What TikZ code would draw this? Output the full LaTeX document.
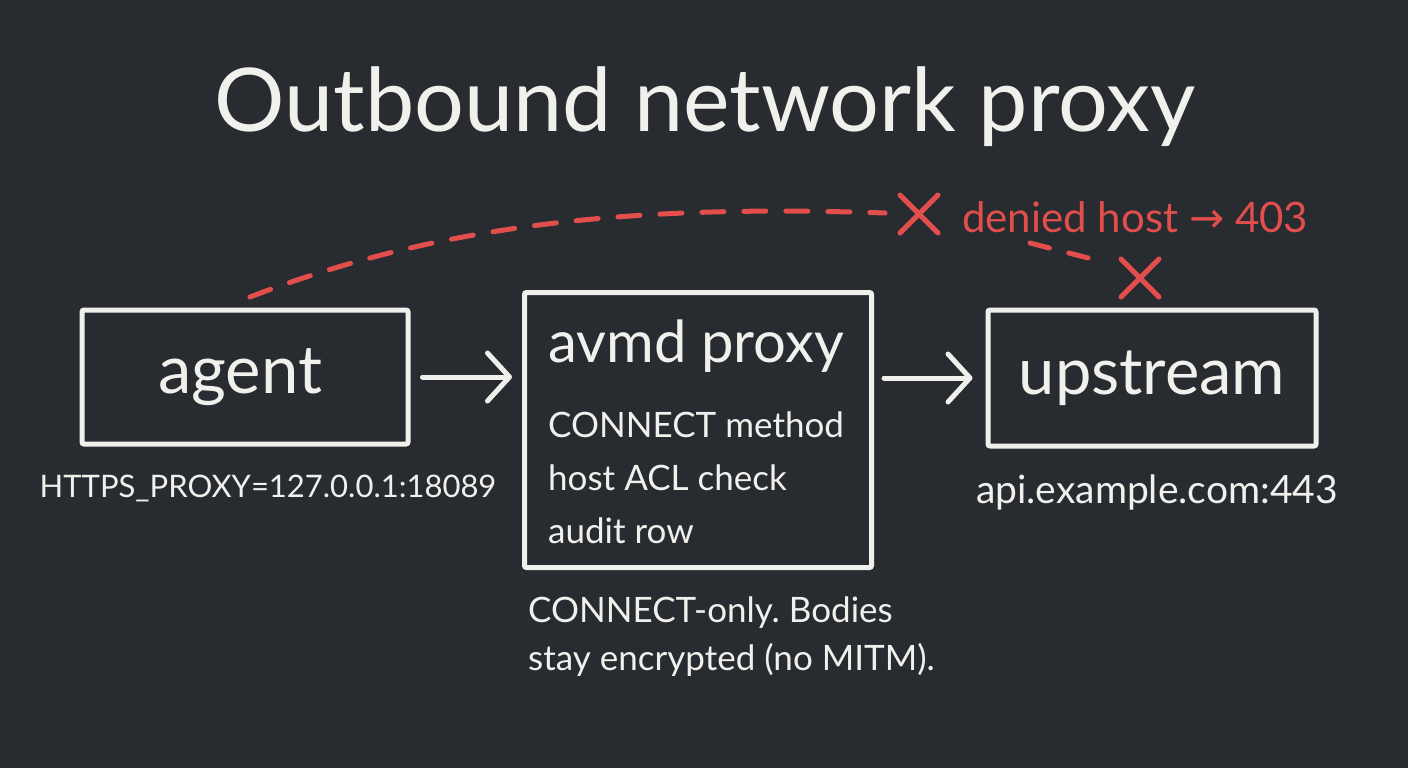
\documentclass[tikz,border=0pt]{standalone}
\usepackage{fontspec}
\setmainfont{Lato}
\newfontfamily\symfont{DejaVu Sans}
\usetikzlibrary{arrows.meta,calc}
\definecolor{board}{RGB}{40,43,48}
\definecolor{chalk}{RGB}{240,240,236}
\definecolor{chalkred}{RGB}{226,78,76}
\frenchspacing
\begin{document}
\begin{tikzpicture}[x=1pt, y=-1pt,
    box/.style={draw=chalk, line width=5pt, rounded corners=2pt, inner sep=0pt},
    lbl/.style={text=chalk, inner sep=0pt},
    arr/.style={draw=chalk, line width=5pt, line cap=round,
      -{Straight Barb[length=22pt, width=48pt, line width=5pt, round]}},
    deny/.style={draw=chalkred, line width=5pt, line cap=round},
    cross/.style={deny, line width=5pt}]
    % Board
    \fill[board] (0,0) rectangle (1408,768);
    \useasboundingbox (0,0) rectangle (1408,768);
    % Title
    \node[lbl, font=\fontsize{88}{92}\selectfont] (title) at (705,107) {Outbound network proxy};
    % Boxes
    \node[box, minimum width=326pt, minimum height=134pt] (agent) at (245,377) {};
    \node[box, minimum width=347pt, minimum height=275pt] (proxy) at (698,430) {};
    \node[box, minimum width=328pt, minimum height=136pt] (upstream) at (1152,378) {};
    \node[lbl, font=\fontsize{67}{70}\selectfont] (agenttxt) at (240,377) {agent};
    \node[lbl, font=\fontsize{65}{70}\selectfont] (upstreamtxt) at (upstream) {upstream};
    % Proxy contents
    \node[lbl, anchor=base west, font=\fontsize{58}{62}\selectfont] (proxyname) at (548,362) {avmd proxy};
    \node[lbl, anchor=base west, font=\fontsize{35}{40}\selectfont] (step1) at (548,437) {CONNECT method};
    \node[lbl, anchor=base west, font=\fontsize{35}{40}\selectfont] (step2) at (548,490) {host ACL check};
    \node[lbl, anchor=base west, font=\fontsize{35}{40}\selectfont] (step3) at (548,543) {audit row};
    % Notes below the boxes
    \node[lbl, anchor=base, font=\fontsize{31}{36}\selectfont] (proxyenv) at (268,497) {HTTPS\_PROXY=127.0.0.1:18089};
    \node[lbl, anchor=base, font=\fontsize{39}{42}\selectfont] (target) at (1157,503) {api.example.com:443};
    \node[lbl, anchor=base west, font=\fontsize{35}{38}\selectfont] (note1) at (528,622) {CONNECT-only. Bodies};
    \node[lbl, anchor=base west, font=\fontsize{35}{38}\selectfont] (note2) at (528,670) {stay encrypted (no MITM).};
    % Flow
    \draw[arr, shorten <=12pt, shorten >=10pt] (agent.east) -- (agent.east -| proxy.west);
    \draw[arr, shorten <=10pt, shorten >=13pt] (proxy.east |- upstream.west) -- (upstream.west);
    % Denied path
    \coordinate (dstart) at (250,297);
    \coordinate (x1) at (919,214);
    \coordinate (x2) at (1140,278);
    \draw[deny, dash pattern=on 22pt off 20pt] (dstart) .. controls (450,220) and (650,205) .. (885,213);
    \draw[cross] ($(x1)+(-19,-19)$) -- ($(x1)+(19,19)$) ($(x1)+(19,-19)$) -- ($(x1)+(-19,19)$);
    \node[lbl, text=chalkred, anchor=base west, font=\fontsize{42}{46}\selectfont] (denied) at (962,232) {denied host {\symfont →} 403};
    \draw[deny, dash pattern=on 20pt off 20pt] (1030,243) -- (1096,260);
    \draw[cross] ($(x2)+(-19,-19)$) -- ($(x2)+(19,19)$) ($(x2)+(19,-19)$) -- ($(x2)+(-19,19)$);
\end{tikzpicture}
\end{document}
